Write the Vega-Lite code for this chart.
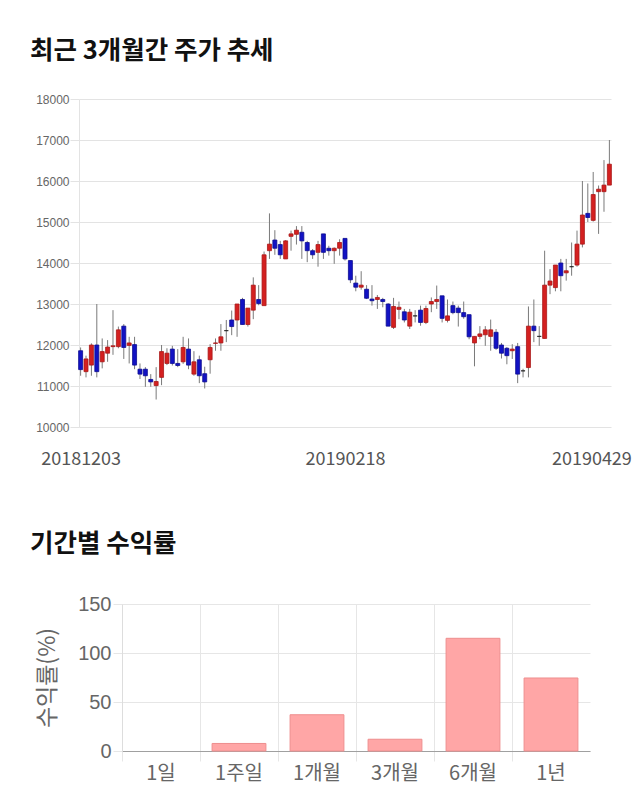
{
  "$schema": "https://vega.github.io/schema/vega-lite/v6.json",
  "background": "white",
  "padding": {"left": 30, "top": 38, "right": 0, "bottom": 10},
  "config": {"view": {"stroke": null}},
  "spacing": 63,
  "vconcat": [
    {
      "title": {"text": "최근 3개월간 주가 추세", "anchor": "start", "frame": "group", "dx": -92, "fontSize": 25.5, "font": "Noto Sans CJK KR", "fontWeight": "bold", "color": "#111", "offset": 29},
      "width": 489,
      "height": 328,
      "data": {"values": [
        {"d":"20181203","o":11860,"h":11940,"l":11250,"c":11400},
        {"d":"20181204","o":11350,"h":11740,"l":11210,"c":11660},
        {"d":"20181205","o":11510,"h":12040,"l":11250,"c":12000},
        {"d":"20181206","o":12000,"h":13000,"l":11210,"c":11350},
        {"d":"20181207","o":11590,"h":12160,"l":11430,"c":11840},
        {"d":"20181210","o":11800,"h":12120,"l":11590,"c":11950},
        {"d":"20181211","o":11960,"h":12850,"l":11760,"c":11980},
        {"d":"20181212","o":11960,"h":12450,"l":11920,"c":12370},
        {"d":"20181213","o":12460,"h":12510,"l":11660,"c":11940},
        {"d":"20181214","o":11990,"h":12200,"l":11550,"c":12050},
        {"d":"20181217","o":12010,"h":12200,"l":11410,"c":11510},
        {"d":"20181218","o":11410,"h":11550,"l":11170,"c":11290},
        {"d":"20181219","o":11410,"h":11460,"l":10980,"c":11250},
        {"d":"20181220","o":11160,"h":11290,"l":10980,"c":11100},
        {"d":"20181221","o":11010,"h":11460,"l":10670,"c":11110},
        {"d":"20181224","o":11210,"h":12000,"l":11020,"c":11840},
        {"d":"20181226","o":11550,"h":11920,"l":11510,"c":11800},
        {"d":"20181227","o":11900,"h":11980,"l":11500,"c":11550},
        {"d":"20181228","o":11550,"h":11900,"l":11460,"c":11500},
        {"d":"20190102","o":11590,"h":12200,"l":11540,"c":11940},
        {"d":"20190103","o":11900,"h":12160,"l":11410,"c":11510},
        {"d":"20190104","o":11290,"h":11850,"l":11250,"c":11590},
        {"d":"20190107","o":11640,"h":11740,"l":11070,"c":11250},
        {"d":"20190108","o":11300,"h":11470,"l":10940,"c":11100},
        {"d":"20190109","o":11640,"h":12020,"l":11300,"c":11940},
        {"d":"20190110","o":12040,"h":12160,"l":11860,"c":12050},
        {"d":"20190111","o":12050,"h":12510,"l":11860,"c":12200},
        {"d":"20190114","o":12350,"h":12610,"l":12070,"c":12350},
        {"d":"20190115","o":12610,"h":12840,"l":12240,"c":12450},
        {"d":"20190116","o":12610,"h":13000,"l":12200,"c":13000},
        {"d":"20190117","o":13110,"h":13150,"l":12500,"c":12500},
        {"d":"20190118","o":12500,"h":12900,"l":12450,"c":12900},
        {"d":"20190121","o":12850,"h":13650,"l":12630,"c":13460},
        {"d":"20190122","o":13110,"h":13460,"l":12970,"c":13010},
        {"d":"20190123","o":12960,"h":14280,"l":12960,"c":14200},
        {"d":"20190124","o":14300,"h":15210,"l":14100,"c":14460},
        {"d":"20190125","o":14560,"h":14800,"l":14200,"c":14360},
        {"d":"20190128","o":14450,"h":14540,"l":14100,"c":14200},
        {"d":"20190129","o":14100,"h":14560,"l":14100,"c":14540},
        {"d":"20190130","o":14650,"h":14790,"l":14300,"c":14710},
        {"d":"20190131","o":14700,"h":14900,"l":14450,"c":14800},
        {"d":"20190201","o":14750,"h":14900,"l":14100,"c":14540},
        {"d":"20190207","o":14500,"h":14540,"l":14020,"c":14300},
        {"d":"20190208","o":14300,"h":14340,"l":14100,"c":14200},
        {"d":"20190211","o":14260,"h":14540,"l":13910,"c":14450},
        {"d":"20190212","o":14710,"h":14710,"l":14100,"c":14260},
        {"d":"20190213","o":14360,"h":14420,"l":14180,"c":14300},
        {"d":"20190214","o":14300,"h":14380,"l":13980,"c":14360},
        {"d":"20190215","o":14360,"h":14580,"l":14180,"c":14500},
        {"d":"20190218","o":14600,"h":14600,"l":14060,"c":14100},
        {"d":"20190219","o":14060,"h":14060,"l":13510,"c":13590},
        {"d":"20190220","o":13510,"h":13690,"l":13310,"c":13410},
        {"d":"20190221","o":13410,"h":13800,"l":13350,"c":13460},
        {"d":"20190222","o":13360,"h":13460,"l":13120,"c":13140},
        {"d":"20190225","o":13120,"h":13460,"l":12960,"c":13080},
        {"d":"20190226","o":13110,"h":13220,"l":12880,"c":13160},
        {"d":"20190227","o":13110,"h":13150,"l":12920,"c":13060},
        {"d":"20190228","o":13000,"h":13020,"l":12460,"c":12460},
        {"d":"20190304","o":12430,"h":13150,"l":12390,"c":12940},
        {"d":"20190305","o":12870,"h":13060,"l":12630,"c":12920},
        {"d":"20190306","o":12810,"h":12880,"l":12550,"c":12610},
        {"d":"20190307","o":12460,"h":12880,"l":12390,"c":12800},
        {"d":"20190308","o":12710,"h":12850,"l":12550,"c":12710},
        {"d":"20190311","o":12850,"h":12960,"l":12470,"c":12550},
        {"d":"20190312","o":12550,"h":12960,"l":12510,"c":12890},
        {"d":"20190313","o":13000,"h":13160,"l":12800,"c":13060},
        {"d":"20190314","o":13060,"h":13450,"l":12880,"c":13110},
        {"d":"20190315","o":13200,"h":13200,"l":12550,"c":12650},
        {"d":"20190318","o":12600,"h":13110,"l":12550,"c":12710},
        {"d":"20190319","o":12960,"h":13060,"l":12750,"c":12790},
        {"d":"20190320","o":12900,"h":12960,"l":12450,"c":12790},
        {"d":"20190321","o":12790,"h":13060,"l":12640,"c":12690},
        {"d":"20190322","o":12740,"h":12740,"l":12140,"c":12200},
        {"d":"20190325","o":12050,"h":12210,"l":11480,"c":12210},
        {"d":"20190326","o":12210,"h":12460,"l":12140,"c":12270},
        {"d":"20190327","o":12250,"h":12460,"l":11980,"c":12370},
        {"d":"20190328","o":12210,"h":12620,"l":11860,"c":12370},
        {"d":"20190329","o":12310,"h":12390,"l":11880,"c":11920},
        {"d":"20190401","o":12000,"h":12050,"l":11670,"c":11800},
        {"d":"20190402","o":11920,"h":11950,"l":11530,"c":11740},
        {"d":"20190403","o":11860,"h":12020,"l":11660,"c":11900},
        {"d":"20190404","o":11960,"h":12050,"l":11070,"c":11290},
        {"d":"20190405","o":11370,"h":11420,"l":11210,"c":11370},
        {"d":"20190408","o":11450,"h":12940,"l":11210,"c":12460},
        {"d":"20190409","o":12460,"h":13110,"l":12070,"c":12350},
        {"d":"20190410","o":12210,"h":12460,"l":11980,"c":12210},
        {"d":"20190411","o":12160,"h":14300,"l":12160,"c":13460},
        {"d":"20190412","o":13460,"h":13850,"l":13240,"c":13560},
        {"d":"20190415","o":13400,"h":13950,"l":13310,"c":13950},
        {"d":"20190416","o":14000,"h":14100,"l":13310,"c":13690},
        {"d":"20190417","o":13760,"h":14100,"l":13570,"c":13810},
        {"d":"20190418","o":13910,"h":14500,"l":13690,"c":13910},
        {"d":"20190419","o":13950,"h":14790,"l":13910,"c":14460},
        {"d":"20190422","o":14460,"h":16000,"l":14380,"c":15170},
        {"d":"20190423","o":15210,"h":15940,"l":15000,"c":15110},
        {"d":"20190424","o":15040,"h":16220,"l":15010,"c":15670},
        {"d":"20190425","o":15740,"h":15890,"l":14710,"c":15800},
        {"d":"20190426","o":15740,"h":16510,"l":15250,"c":15900},
        {"d":"20190429","o":15900,"h":17000,"l":15900,"c":16410}
      ]},
      "encoding": {
        "x": {"field": "d", "type": "ordinal", "sort": null,
          "scale": {"type": "point", "padding": 0.3, "range": [-43, 489]},
          "axis": {"values": ["20181203", "20190218", "20190429"], "labelAngle": 0, "ticks": false, "domain": false, "grid": false, "title": null,
            "labelFontSize": 18, "labelFont": "Noto Sans CJK KR", "labelColor": "#555", "labelPadding": 23,
            "labelOffset": {"expr": "datum.value == '20190429' ? -18 : 0"}}}
      },
      "layer": [
        {
          "mark": {"type": "rule", "color": "#7a7a7a", "strokeWidth": 1},
          "encoding": {
            "y": {"field": "l", "type": "quantitative", "scale": {"domain": [10000, 18000]},
              "axis": {"values": [10000, 11000, 12000, 13000, 14000, 15000, 16000, 17000, 18000], "format": "d", "title": null, "offset": 43,
                "labelFontSize": 12, "labelFont": "Liberation Sans", "labelColor": "#666", "labelPadding": 1,
                "gridColor": "#e3e3e3", "tickColor": "#e3e3e3", "tickSize": 9, "domainColor": "#e3e3e3"}},
            "y2": {"field": "h"}
          }
        },
        {
          "mark": {"type": "bar", "width": 4, "strokeWidth": 0.8},
          "encoding": {
            "y": {"field": "o", "type": "quantitative"},
            "y2": {"field": "c"},
            "fill": {"condition": [{"test": "datum.c > datum.o", "value": "#d42020"}, {"test": "datum.c < datum.o", "value": "#1212c4"}], "value": "#222222"},
            "stroke": {"condition": [{"test": "datum.c > datum.o", "value": "#a81818"}, {"test": "datum.c < datum.o", "value": "#0c0c90"}], "value": "#222222"}
          }
        }
      ]
    },
    {
      "title": {"text": "기간별 수익률", "anchor": "start", "frame": "group", "dx": -92, "fontSize": 25.5, "font": "Noto Sans CJK KR", "fontWeight": "bold", "color": "#111", "offset": 37},
      "width": 468,
      "height": 147,
      "data": {"values": [
        {"p": "1일", "r": 0},
        {"p": "1주일", "r": 7.7},
        {"p": "1개월", "r": 37},
        {"p": "3개월", "r": 12},
        {"p": "6개월", "r": 115},
        {"p": "1년", "r": 74.5}
      ]},
      "mark": {"type": "bar", "width": {"band": 0.69}, "fill": "#ffa6a6", "stroke": "#ee8e8e", "strokeWidth": 1},
      "encoding": {
        "strokeOpacity": {"condition": {"test": "datum.r == 0", "value": 0}, "value": 1},
        "x": {"field": "p", "type": "nominal", "sort": null,
          "scale": {"paddingInner": 0, "paddingOuter": 0},
          "axis": {"bandPosition": 0, "grid": true, "gridColor": "#e6e6e6", "tickColor": "#e6e6e6", "tickSize": 10,
            "domainColor": "#a0a0a0", "labelAngle": 0, "labelFontSize": 20, "labelFont": "Noto Sans CJK KR", "labelColor": "#666",
            "labelPadding": 2, "title": null}},
        "y": {"field": "r", "type": "quantitative", "scale": {"domain": [0, 150]},
          "axis": {"values": [0, 50, 100, 150], "title": "수익률(%)", "titleFontSize": 23, "titleFont": "Noto Sans CJK KR", "titleFontWeight": "normal",
            "titleColor": "#666", "titlePadding": 18, "labelFontSize": 20, "labelFont": "Liberation Sans", "labelColor": "#666", "labelPadding": 2,
            "gridColor": "#e6e6e6", "tickColor": "#e6e6e6", "tickSize": 9, "domainColor": "#dddddd"}}
      }
    }
  ]
}
